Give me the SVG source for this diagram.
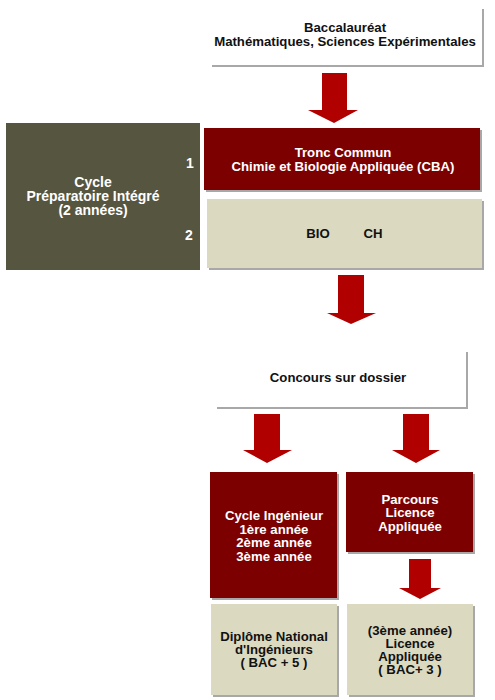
<svg xmlns="http://www.w3.org/2000/svg" width="495" height="700" viewBox="0 0 495 700">
<defs>
<style>
.t{font-family:"Liberation Sans",Arial,sans-serif;font-weight:bold;font-size:13.2px;text-anchor:middle}
.big{font-size:14px}
.w{fill:#ffffff}
.k{fill:#111111}
.sh{fill:#a8a8a8}
.arr{fill:#b00000}
</style>
</defs>
<rect width="495" height="700" fill="#ffffff"/>
<g id="connectors">
<polygon class="arr" points="322,73 347,73 347,110 358,110 334,123 308,110 322,110"/>
<polygon class="arr" points="338,275 364,275 364,313 376,313 351,324 327,313 338,313"/>
<polygon class="arr" points="254,414 280,414 280,450 292,450 267,463 243,450 254,450"/>
<polygon class="arr" points="403,414 429,414 429,450 440,450 416,463 392,450 403,450"/>
<polygon class="arr" points="409,559 431,559 431,588 441,588 420,599 399,588 409,588"/>
</g>
<g id="bac">
<rect class="sh" x="212" y="9" width="272" height="58"/>
<rect x="210" y="7" width="272" height="58" fill="#ffffff"/>
<text class="t k" x="345" y="32">Baccalauréat</text>
<text class="t k" x="345" y="46">Mathématiques, Sciences Expérimentales</text>
</g>
<g id="cycle-prep">
<rect x="6" y="123" width="194" height="147" fill="#56553f"/>
<text class="t w big" x="93" y="187">Cycle</text>
<text class="t w big" x="93" y="201">Préparatoire Intégré</text>
<text class="t w big" x="93" y="215">(2 années)</text>
<text class="t w big" x="190" y="168">1</text>
<text class="t w big" x="189" y="240">2</text>
</g>
<g id="tronc">
<rect class="sh" x="206" y="130" width="276" height="62"/>
<rect x="204" y="128" width="276" height="62" fill="#7c0000"/>
<text class="t w" x="343" y="157">Tronc Commun</text>
<text class="t w" x="343" y="171">Chimie et Biologie Appliquée (CBA)</text>
</g>
<g id="bio-ch">
<rect class="sh" x="209" y="201" width="275" height="69"/>
<rect x="207" y="199" width="275" height="69" fill="#dcd9c1"/>
<text class="t k" x="318" y="238">BIO</text>
<text class="t k" x="373" y="238">CH</text>
</g>
<g id="concours">
<rect class="sh" x="217" y="352" width="251" height="57"/>
<rect x="215" y="350" width="251" height="57" fill="#ffffff"/>
<text class="t k" x="338" y="382">Concours sur dossier</text>
</g>
<g id="cycle-ing">
<rect class="sh" x="212" y="474" width="127" height="126"/>
<rect x="210" y="472" width="127" height="126" fill="#7c0000"/>
<text class="t w" x="274" y="520">Cycle Ingénieur</text>
<text class="t w" x="274" y="534">1ère année</text>
<text class="t w" x="274" y="547">2ème année</text>
<text class="t w" x="274" y="561">3ème année</text>
</g>
<g id="parcours">
<rect class="sh" x="348" y="474" width="127" height="80"/>
<rect x="346" y="472" width="127" height="80" fill="#7c0000"/>
<text class="t w" x="410" y="504">Parcours</text>
<text class="t w" x="410" y="517">Licence</text>
<text class="t w" x="410" y="531">Appliquée</text>
</g>
<g id="diplome">
<rect class="sh" x="213" y="606" width="126" height="91"/>
<rect x="211" y="604" width="126" height="91" fill="#dcd9c1"/>
<text class="t k" x="274" y="641">Diplôme National</text>
<text class="t k" x="274" y="654">d'Ingénieurs</text>
<text class="t k" x="274" y="667">( BAC + 5 )</text>
</g>
<g id="licence">
<rect class="sh" x="349" y="606" width="126" height="91"/>
<rect x="347" y="604" width="126" height="91" fill="#dcd9c1"/>
<text class="t k" x="410" y="635">(3ème année)</text>
<text class="t k" x="410" y="648">Licence</text>
<text class="t k" x="410" y="661">Appliquée</text>
<text class="t k" x="410" y="674">( BAC+ 3 )</text>
</g>
</svg>
